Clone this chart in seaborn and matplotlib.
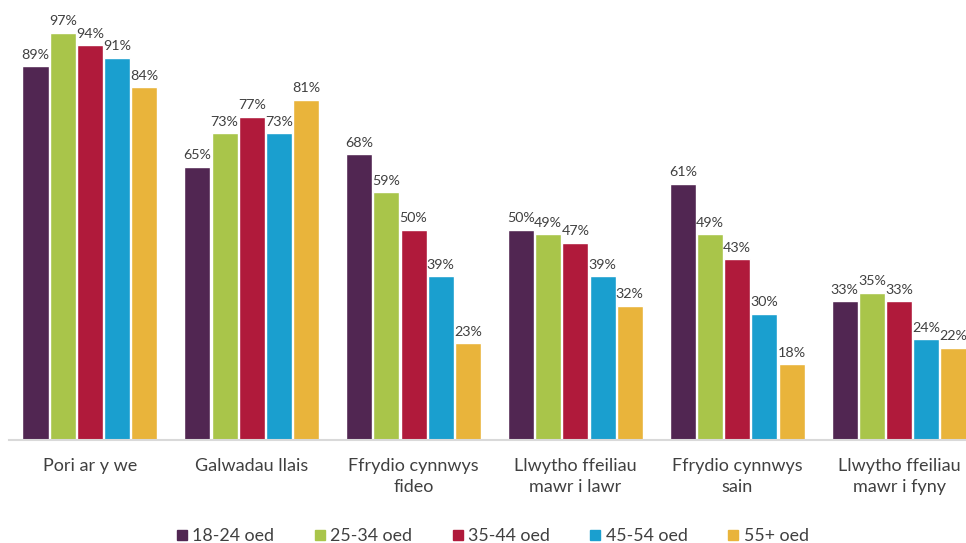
import matplotlib
matplotlib.use("Agg")
import matplotlib.pyplot as plt
import seaborn as sns
import pandas as pd
from matplotlib.lines import Line2D

categories = [
    "Pori ar y we",
    "Galwadau llais",
    "Ffrydio cynnwys\nfideo",
    "Llwytho ffeiliau\nmawr i lawr",
    "Ffrydio cynnwys\nsain",
    "Llwytho ffeiliau\nmawr i fyny",
]
age_groups = ["18-24 oed", "25-34 oed", "35-44 oed", "45-54 oed", "55+ oed"]
values_18_24 = [89, 65, 68, 50, 61, 33]
values_25_34 = [97, 73, 59, 49, 49, 35]
values_35_44 = [94, 77, 50, 47, 43, 33]
values_45_54 = [91, 73, 39, 39, 30, 24]
values_55_plus = [84, 81, 23, 32, 18, 22]
colors = ["#512652", "#a9c54a", "#b01a3b", "#1a9fcf", "#e9b43b"]

series = [values_18_24, values_25_34, values_35_44, values_45_54, values_55_plus]
rows = []
for grp, vals in zip(age_groups, series):
    for cat, v in zip(categories, vals):
        rows.append({"category": cat, "age": grp, "value": v})
df = pd.DataFrame(rows)

sns.set_theme(style="white")
plt.rcParams["font.family"] = ["Lato", "DejaVu Sans"]
text_color = "#404040"

fig = plt.figure(figsize=(9.66, 5.43), dpi=100)
ax = fig.add_axes([9 / 966, 103 / 543, 971 / 966, 420 / 543])

sns.barplot(data=df, x="category", y="value", hue="age", order=categories,
            hue_order=age_groups, palette=colors, width=0.84, gap=0.04,
            saturation=1, ax=ax, legend=False)

for cont in ax.containers:
    ax.bar_label(cont, fmt="%d%%", padding=4, fontsize=10.3, color=text_color)

ax.set_ylim(0, 100)
ax.set_xlim(-0.5, len(categories) - 0.5)
ax.set_xlabel("")
ax.set_ylabel("")
ax.set_yticks([])
for side in ["left", "right", "top"]:
    ax.spines[side].set_visible(False)
ax.spines["bottom"].set_color("#d9d9d9")
ax.spines["bottom"].set_linewidth(1.5)
ax.tick_params(axis="x", length=0, pad=13, labelsize=13, colors=text_color)
for lbl in ax.get_xticklabels():
    lbl.set_linespacing(1.35)

handles = [Line2D([0], [0], marker="s", linestyle="", markersize=7,
                  markerfacecolor=c, markeredgecolor=c) for c in colors]
fig.legend(handles, age_groups, loc="center", bbox_to_anchor=(0.51, 0.013),
           ncol=5, frameon=False, fontsize=12.8, labelcolor=text_color,
           handletextpad=0.3, columnspacing=2.25, handlelength=0.6,
           borderpad=0, borderaxespad=0)

fig.savefig("out.png", dpi=100)
